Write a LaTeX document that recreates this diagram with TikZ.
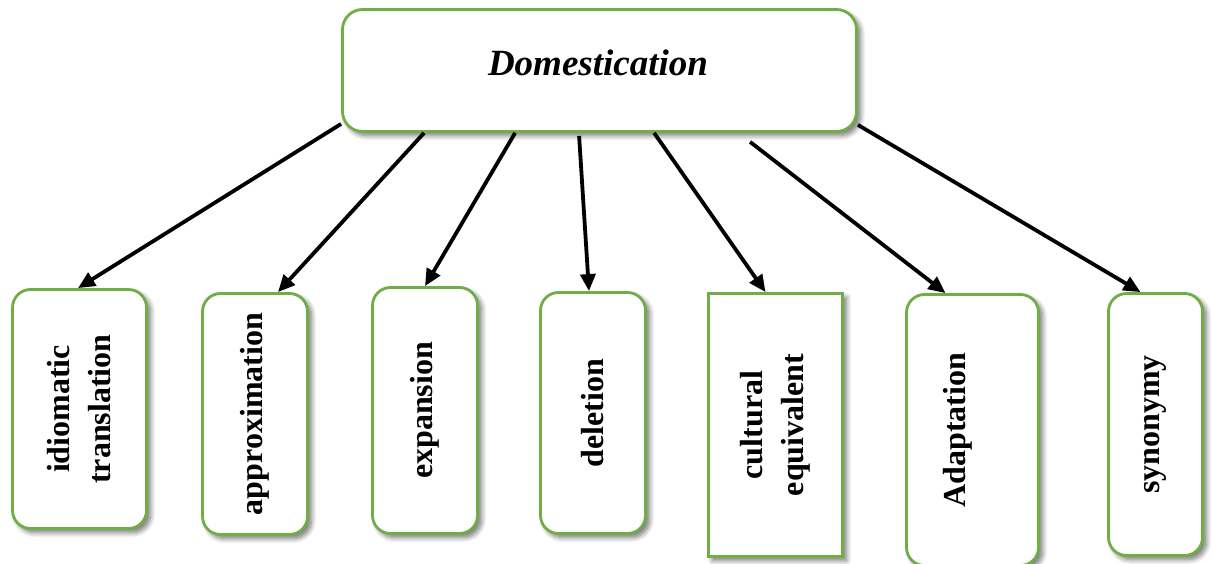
\documentclass[tikz,border=0pt]{standalone}
\usepackage{fontspec}
\setmainfont{Liberation Serif}
\usetikzlibrary{arrows.meta,shadows.blur}
\definecolor{grn}{HTML}{70AD47}
\tikzset{
  box/.style={draw=grn, line width=2.8pt, fill=white, rounded corners=18pt, inner sep=0pt,
    blur shadow={shadow xshift=4pt, shadow yshift=-4pt, shadow blur steps=8, shadow blur radius=5pt, shadow opacity=55}},
  lbl/.style={rotate=90, font=\fontsize{32}{41}\selectfont\bfseries, align=center, inner sep=0pt},
  arr/.style={line width=3.8pt, -{Triangle[length=17pt,width=15pt]}}
}
\begin{document}
\begin{tikzpicture}[x=1pt,y=-1pt]
\useasboundingbox (0,0) rectangle (1213,564);
% top box
\node[box, rounded corners=20pt, minimum width=514pt, minimum height=122pt] (D) at (599.5,70.5) {};
\node[inner sep=0pt, font=\fontsize{37}{44}\selectfont\bfseries\itshape] (tD) at (598,63) {Domestication};
% bottom boxes
\node[box, minimum width=134pt, minimum height=239pt] (b1) at (79.5,409) {};
\node[box, minimum width=105pt, minimum height=241pt] (b2) at (255,414) {};
\node[box, minimum width=105pt, minimum height=246pt] (b3) at (425,410.5) {};
\node[box, minimum width=105pt, minimum height=241pt] (b4) at (593,413) {};
\node[box, sharp corners, minimum width=134pt, minimum height=263pt] (b5) at (775.5,425) {};
\node[box, minimum width=132pt, minimum height=271pt] (b6) at (972.5,430) {};
\node[box, minimum width=94pt, minimum height=262pt] (b7) at (1155.5,424.5) {};
% labels
\node[lbl] (t1) at (b1.center) {idiomatic\\translation};
\node[lbl] (t2) at (b2.center) {approximation};
\node[lbl] (t3) at (b3.center) {expansion};
\node[lbl] (t4) at (b4.center) {deletion};
\node[lbl] (t5) at (b5.center) {cultural\\equivalent};
\node[lbl] (t6) at (958,430) {Adaptation};
\node[lbl] (t7) at (b7.center) {synonymy};
% arrows
\draw[arr] ([yshift=9pt]D.south west) -- ([xshift=-1.5pt]b1.north);
\draw[arr] ([xshift=83pt]D.south west) -- ([xshift=23pt]b2.north);
\draw[arr] ([xshift=174pt]D.south west) -- (b3.north);
\draw[arr] ([xshift=238pt,yshift=-3pt]D.south west) -- ([xshift=-4pt]b4.north);
\draw[arr] ([xshift=313pt]D.south west) -- ([xshift=-10pt]b5.north);
\draw[arr] ([xshift=409pt,yshift=-9pt]D.south west) -- ([xshift=-27pt]b6.north);
\draw[arr] ([yshift=8pt]D.south east) -- ([xshift=-15pt]b7.north);
\end{tikzpicture}
\end{document}
